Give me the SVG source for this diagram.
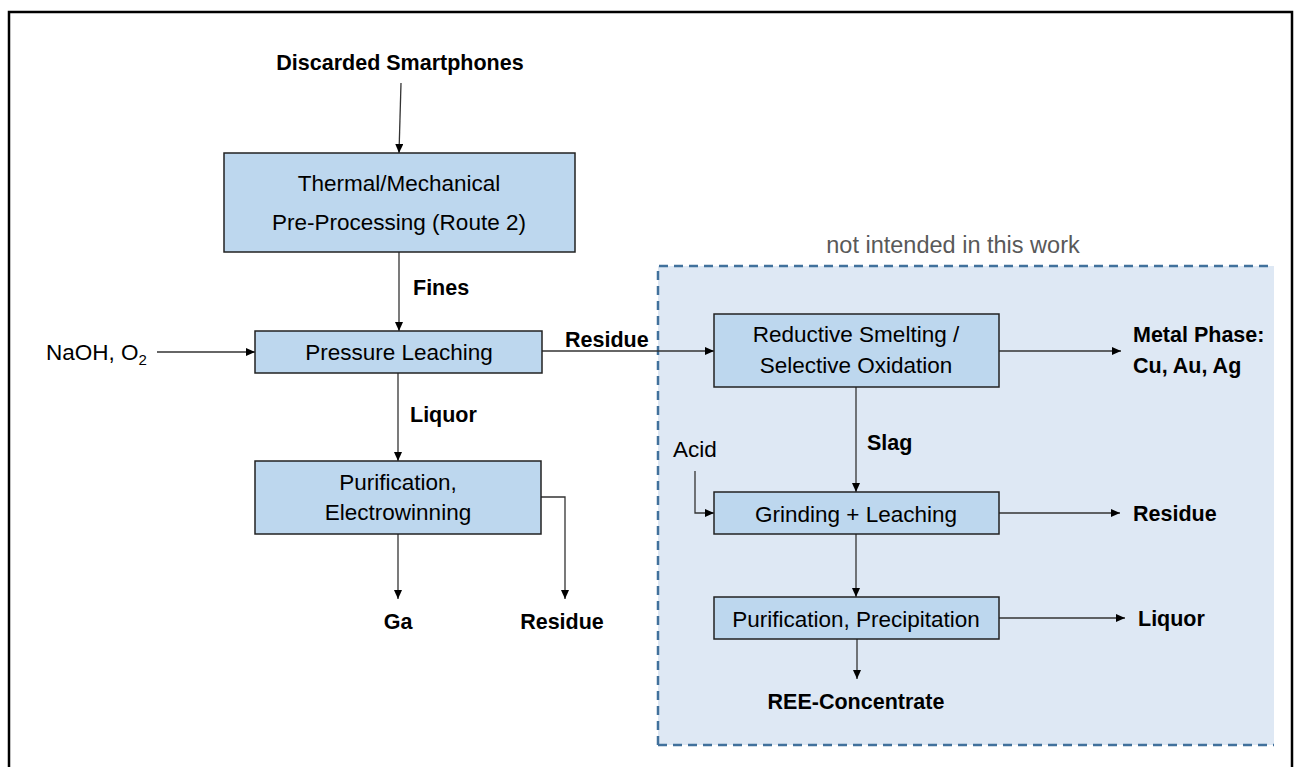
<svg xmlns="http://www.w3.org/2000/svg" width="1294" height="767" viewBox="0 0 1294 767">
<style>
.box{fill:#BDD7EE;stroke:#222;stroke-width:1.5}
.t{font-family:"Liberation Sans",Arial,sans-serif;font-size:22.5px;fill:#000}
.b{font-family:"Liberation Sans",Arial,sans-serif;font-size:21.5px;font-weight:bold;fill:#000}
.c{text-anchor:middle}
.ln{fill:none;stroke:#333;stroke-width:1.3;marker-end:url(#arr)}
</style>
<defs>
<marker id="arr" markerWidth="9" markerHeight="8" refX="9" refY="4" orient="auto" markerUnits="userSpaceOnUse">
<path d="M0,0 L9,4 L0,8 z" fill="#000"/>
</marker>
</defs>
<rect x="0" y="0" width="1294" height="767" fill="#fff"/>
<rect x="9" y="12" width="1283" height="820" fill="none" stroke="#000" stroke-width="2.5"/>
<g id="region">
<rect x="658" y="266" width="616" height="479" fill="#DEE8F4"/>
<path d="M658,745 L658,266 L1274,266 M658,745 L1274,745" fill="none" stroke="#41719C" stroke-width="2.5" stroke-dasharray="9,6"/>
<text class="t c" x="953" y="253" style="fill:#595959;font-size:23.5px">not intended in this work</text>
</g>
<g id="connectors">
<path class="ln" d="M401,83 L399,153"/>
<path class="ln" d="M399,252 L399,331"/>
<path class="ln" d="M157,352 L255,352"/>
<path class="ln" d="M542,351 L714,351"/>
<path class="ln" d="M398,373 L398,461"/>
<path class="ln" d="M398,534 L398,599"/>
<path class="ln" d="M541,497 L565,497 L565,599"/>
<path class="ln" d="M999,351 L1121,351"/>
<path class="ln" d="M856,387 L856,492"/>
<path class="ln" d="M695,471 L695,513 L714,513"/>
<path class="ln" d="M999,513 L1120,513"/>
<path class="ln" d="M856,534 L856,597"/>
<path class="ln" d="M999,618 L1125,618"/>
<path class="ln" d="M857,639 L857,679"/>
</g>
<g id="discarded"><text class="b c" x="400" y="70">Discarded Smartphones</text></g>
<g id="pretreat">
<rect class="box" x="224" y="153" width="351" height="99"/>
<text class="t c" x="399" y="191">Thermal/Mechanical</text>
<text class="t c" x="399" y="230">Pre-Processing (Route 2)</text>
</g>
<g id="fines"><text class="b" x="413" y="295">Fines</text></g>
<g id="naoh"><text class="t" x="46" y="360">NaOH, O<tspan font-size="15" dy="5">2</tspan></text></g>
<g id="pressure">
<rect class="box" x="255" y="331" width="287" height="42"/>
<text class="t c" x="399" y="360">Pressure Leaching</text>
</g>
<g id="residue1"><text class="b" x="565" y="347">Residue</text></g>
<g id="liquor1"><text class="b" x="410" y="422">Liquor</text></g>
<g id="purif1">
<rect class="box" x="255" y="461" width="286" height="73"/>
<text class="t c" x="398" y="490">Purification,</text>
<text class="t c" x="398" y="520">Electrowinning</text>
</g>
<g id="ga"><text class="b c" x="398" y="629">Ga</text></g>
<g id="residue2"><text class="b c" x="562" y="629">Residue</text></g>
<g id="smelting">
<rect class="box" x="714" y="314" width="285" height="73"/>
<text class="t c" x="856" y="342">Reductive Smelting /</text>
<text class="t c" x="856" y="373">Selective Oxidation</text>
</g>
<g id="metal">
<text class="b" x="1133" y="342">Metal Phase:</text>
<text class="b" x="1133" y="373">Cu, Au, Ag</text>
</g>
<g id="slag"><text class="b" x="867" y="450">Slag</text></g>
<g id="acid"><text class="t" x="673" y="457">Acid</text></g>
<g id="grinding">
<rect class="box" x="714" y="492" width="285" height="42"/>
<text class="t c" x="856" y="522">Grinding + Leaching</text>
</g>
<g id="residue3"><text class="b" x="1133" y="521">Residue</text></g>
<g id="purif2">
<rect class="box" x="714" y="597" width="285" height="42"/>
<text class="t c" x="856" y="627">Purification, Precipitation</text>
</g>
<g id="liquor2"><text class="b" x="1138" y="626">Liquor</text></g>
<g id="ree"><text class="b c" x="856" y="709">REE-Concentrate</text></g>
</svg>
